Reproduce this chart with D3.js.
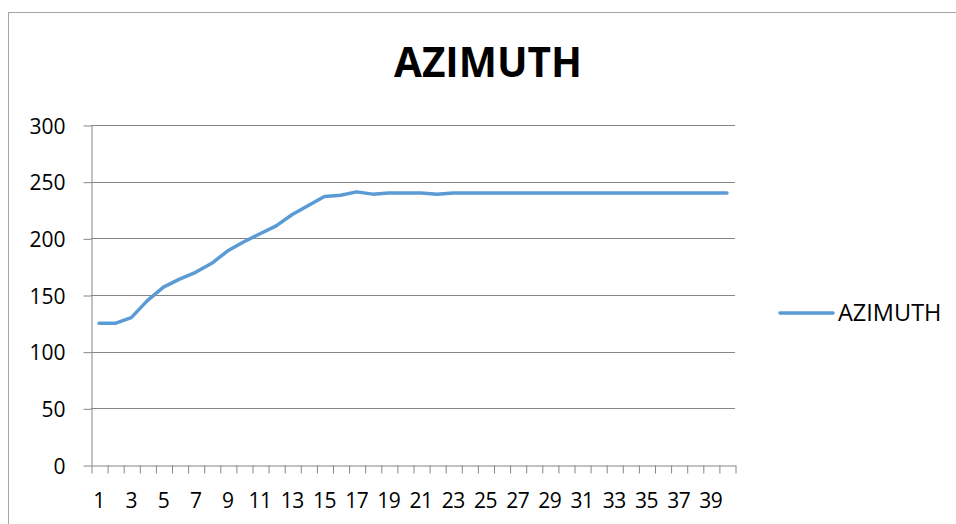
<!DOCTYPE html>
<html>
<head>
<meta charset="utf-8">
<script src="https://cdn.jsdelivr.net/npm/d3@7"></script>
<style>
  body { margin: 0; background: #fff; }
  svg { display: block; font-family: "Open Sans", sans-serif; }
  .axis path, .axis line { stroke: #868686; }
  .axis text { fill: #000; font-size: 21px; font-family: "Open Sans", sans-serif; }
</style>
</head>
<body>
<svg id="chart" width="956" height="524"></svg>
<script>
const seriesName = "AZIMUTH";
const categories = d3.range(1, 41);
const azimuth = [
  125, 125, 130, 145, 157, 164, 170, 178, 189, 197,
  204, 211, 221, 229, 237, 238, 241, 239, 240, 240,
  240, 239, 240, 240, 240, 240, 240, 240, 240, 240,
  240, 240, 240, 240, 240, 240, 240, 240, 240, 240
];
const yTicks = [0, 50, 100, 150, 200, 250, 300];

const plot = { left: 91, right: 735, top: 125, bottom: 465 };
const svg = d3.select("#chart");

// chart area border
svg.append("rect")
  .attr("x", 8.5).attr("y", 12.5)
  .attr("width", 1000).attr("height", 600)
  .attr("fill", "none").attr("stroke", "#a6a6a6");

svg.append("text")
  .attr("x", 488).attr("y", 77)
  .attr("text-anchor", "middle")
  .attr("font-size", 40.5).attr("font-weight", "bold")
  .text("AZIMUTH");

const x = d3.scaleBand().domain(categories).range([plot.left, plot.right]).paddingInner(0).paddingOuter(0);
const xEdge = d3.scaleLinear().domain([0, categories.length]).range([plot.left, plot.right]);
const y = d3.scaleLinear().domain([0, 300]).range([plot.bottom, plot.top]);

// gridlines
svg.append("g")
  .selectAll("line")
  .data(yTicks.filter(d => d > 0))
  .join("line")
  .attr("x1", plot.left).attr("x2", plot.right)
  .attr("y1", d => Math.round(y(d)) + 0.5).attr("y2", d => Math.round(y(d)) + 0.5)
  .attr("stroke", "#868686");

// y axis
const yAxis = svg.append("g")
  .attr("class", "axis")
  .attr("transform", `translate(${plot.left + 0.5},0.5)`)
  .call(d3.axisLeft(y).tickValues(yTicks).tickSize(8).tickPadding(18).tickSizeOuter(0));
yAxis.selectAll("text").attr("dy", "0.36em");

// x axis: tick marks between categories
svg.append("g")
  .attr("class", "axis")
  .attr("transform", `translate(0.5,${Math.round(plot.bottom) + 0.5})`)
  .call(d3.axisBottom(xEdge).tickValues(d3.range(0, categories.length + 1)).tickSize(8).tickSizeOuter(0).tickFormat(""));

// x labels at category centres
const xLab = svg.append("g")
  .attr("class", "axis")
  .attr("transform", `translate(0,${plot.bottom})`)
  .call(d3.axisBottom(x).tickValues(categories.filter(d => d % 2 === 1)).tickSize(0).tickPadding(28));
xLab.select(".domain").remove();
xLab.selectAll("text").attr("letter-spacing", "-0.5px");

// series line
const line = d3.line()
  .x((d, i) => x(categories[i]) + x.bandwidth() / 2)
  .y(d => y(d));

svg.append("path")
  .datum(azimuth)
  .attr("fill", "none")
  .attr("stroke", "#5b9bd5")
  .attr("stroke-width", 3.5)
  .attr("stroke-linejoin", "round")
  .attr("stroke-linecap", "round")
  .attr("d", line);

// legend
const legend = svg.append("g").attr("transform", "translate(780,313)");
legend.append("line")
  .attr("x1", 0).attr("x2", 53)
  .attr("stroke", "#5b9bd5").attr("stroke-width", 3.5).attr("stroke-linecap", "round");
legend.append("text")
  .attr("x", 58).attr("dy", "0.36em")
  .attr("font-size", 23.5)
  .text(seriesName);
</script>
</body>
</html>
